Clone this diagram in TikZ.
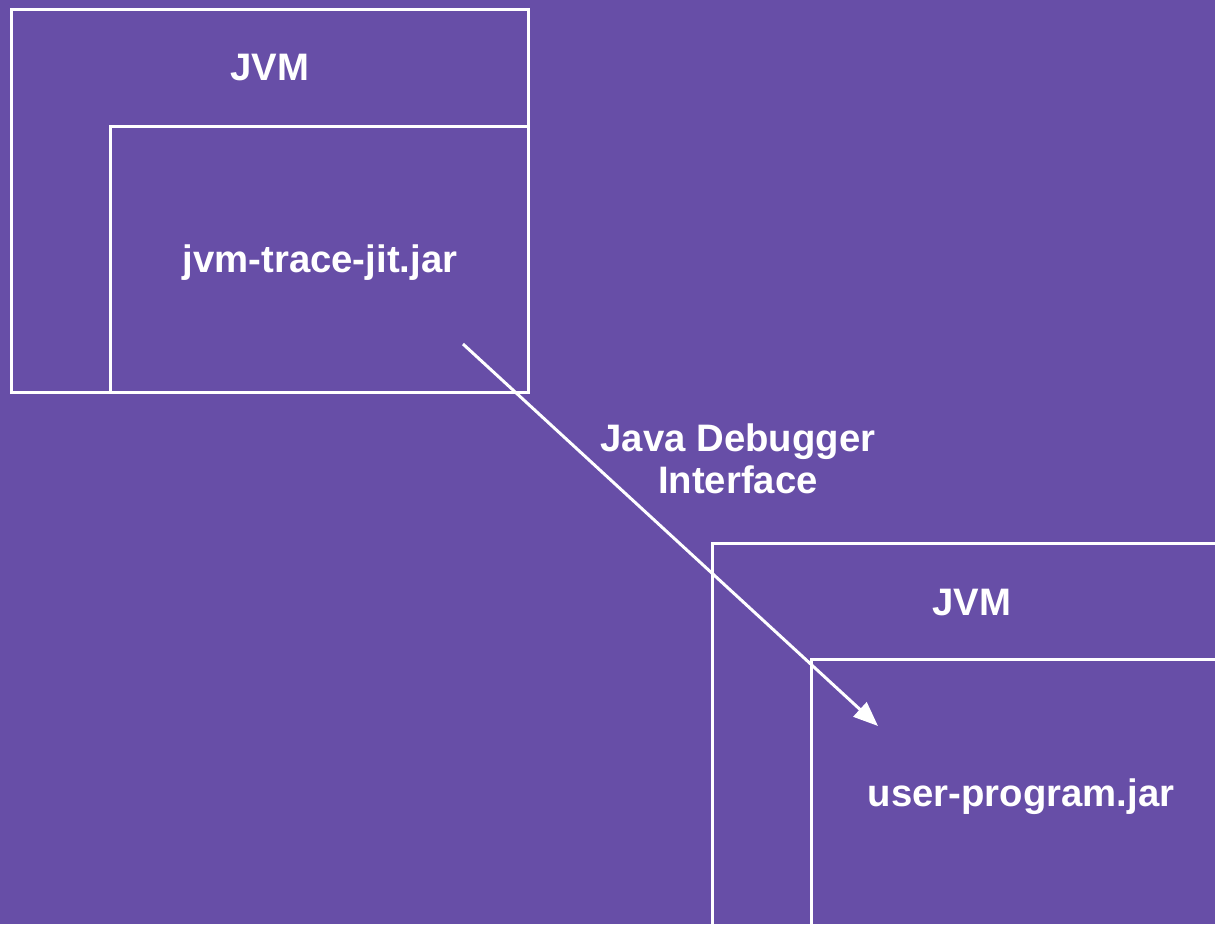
\documentclass[tikz,border=0pt]{standalone}
\usepackage{fontspec}
\setmainfont{Liberation Sans}
\usepackage{tikz}
\usetikzlibrary{positioning,arrows.meta}
\definecolor{bgpurple}{RGB}{103,78,167}
\tikzset{
  jvmbox/.style={draw=white, line width=1.7pt, inner sep=0pt},
  lbl/.style={text=white, inner sep=0pt, anchor=base, align=center,
              font=\fontsize{21.8}{23.8}\selectfont\bfseries},
  fwd/.style={-{Triangle[length=14pt, width=11pt]}, white, line width=1.7pt},
}

\begin{document}
\begin{tikzpicture}[x=0.02cm, y=-0.02cm]
  \fill[bgpurple] (0,0) rectangle (1215,924);
  \clip (0,0) rectangle (1215,924);

  % left side: tracer
  \node[jvmbox, minimum width=10.36cm, minimum height=7.66cm] (vm1) at (270,201) {};
  \node[jvmbox, minimum width=8.38cm, minimum height=5.32cm, anchor=south east] (jar1) at (vm1.south east) {};
  \node[lbl] (vm1lab) at (270,80) {JVM};
  \node[lbl] (jar1lab) at (320,272) {jvm-trace-jit.jar};

  % right side: traced program
  \node[jvmbox, minimum width=11.06cm, minimum height=8.62cm] (vm2) at (988.5,758.5) {};
  \node[jvmbox, minimum width=9.08cm, minimum height=6.3cm, anchor=south east] (jar2) at (vm2.south east) {};
  \node[lbl] (vm2lab) at (972,615) {JVM};
  \node[lbl] (jar2lab) at (1021,806) {user-program.jar};

  \coordinate (src) at (463,344);
  \coordinate (dst) at (878,726);
  \draw[fwd] (src) -- (dst);
  \node[lbl] (jdi) at (738,493) {Java Debugger\\Interface};
\end{tikzpicture}
\end{document}
